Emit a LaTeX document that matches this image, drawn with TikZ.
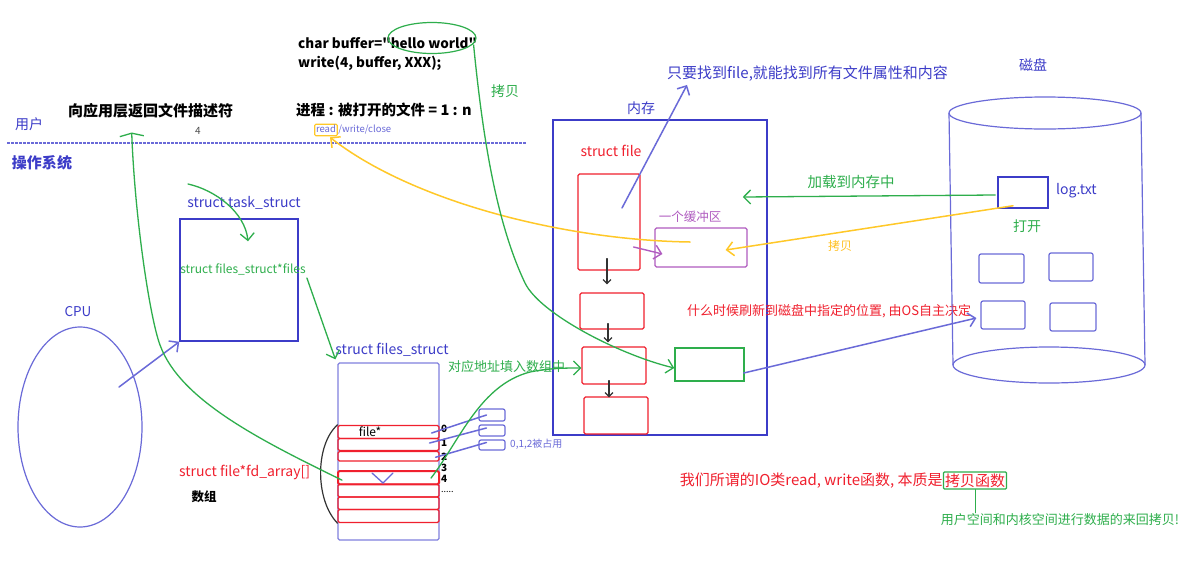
\documentclass[tikz,border=0pt]{standalone}
\usepackage{fontspec}
\setmainfont{Noto Sans CJK SC}
\usetikzlibrary{arrows.meta,shapes.geometric,fit,calc}
\definecolor{cblue}{HTML}{3C3CC8}
\definecolor{lblue}{HTML}{6A6AD8}
\definecolor{cgreen}{HTML}{2EAE4C}
\definecolor{cred}{HTML}{F0202E}
\definecolor{cpurple}{HTML}{B05CC0}
\definecolor{cyellow}{HTML}{FFC828}
\newcommand\fsz[1]{\fontsize{#1}{#1}\selectfont}
\newcommand\sqt{\XeTeXglyph\the\XeTeXcharglyph"22\relax}
\begin{document}
\begin{tikzpicture}[x=1pt,y=-1pt,
  txt/.style={inner sep=1pt},
  hand/.style={-{Straight Barb[length=7pt,width=14pt]}},
  smallhand/.style={-{Straight Barb[length=4pt,width=8pt]}},
  flathand/.style={-{Straight Barb[length=3pt,width=24pt]}},
  gline/.style={draw=cgreen, line width=1.3pt, line cap=round},
  bline/.style={draw=lblue, line width=1.5pt, line cap=round},
  yline/.style={draw=cyellow, line width=1.5pt, line cap=round},
  pline/.style={draw=cpurple, line width=1.4pt, line cap=round},
  kline/.style={draw=black!80, line width=1.2pt, line cap=round},
  bbox/.style={draw=cblue, line width=1.5pt, inner sep=0pt},
  rbox/.style={draw=cred, line width=1.2pt, rounded corners=1.5pt, inner sep=0pt},
  dbox/.style={draw=lblue, line width=1.2pt, rounded corners=2pt, inner sep=0pt},
]
\useasboundingbox[fill=white] (0,0) rectangle (1188,568);

% user / os separation
\node[txt, text=cblue, font=\fsz{14}] (user) at (29,124) {用户};
\node[txt, text=cblue, font=\fsz{15}\bfseries] (os) at (42,163) {操作系统};
\draw[lblue, line width=1.3pt, dash pattern=on 3pt off 1pt] (7,143) -- (527,143);

\node[txt, font=\fsz{15}\bfseries, anchor=west] (ret) at (67,111) {向应用层返回文件描述符};
\node[txt, text=black!70, font=\fsz{10}] (four) at (198,131) {4};
\node[txt, font=\fsz{13.5}\bfseries, anchor=west] (code1) at (297,43) {char buffer=\sqt hello world\sqt};
\node[txt, font=\fsz{13.5}\bfseries, anchor=west] (code2) at (297,63) {write(4, buffer, XXX);};
\node[txt, font=\fsz{14.5}\bfseries, anchor=west] (ratio) at (295,110) {进程 : 被打开的文件 = 1 : n};
\node[draw=cyellow, line width=1.2pt, rounded corners=1pt, inner sep=1.2pt, text=lblue, font=\fsz{9.5}, text height=7pt, text depth=2pt] (rd) at (326,130) {read};
\node[inner sep=0.5pt, text=lblue, font=\fsz{9.5}, text height=7pt, text depth=2pt, anchor=west] (wc) at (rd.east) {/write/close};
\node[ellipse, draw=cgreen, line width=1.2pt, minimum width=88pt, minimum height=31pt, inner sep=0pt] (hello) at (432,38) {};
\node[txt, text=cgreen, font=\fsz{14}] (copy1) at (505,91) {拷贝};

% memory
\node[txt, text=cblue, font=\fsz{14}] (memlbl) at (641,108) {内存};
\node[bbox, fit={(553,120)(767,435)}] (mem) {};
\node[txt, text=cred, font=\fsz{14}] (sfile) at (611,151) {struct file};
\node[rbox, fit={(578,174)(640,270)}] (r1) {};
\node[rbox, fit={(580,293)(644,329)}] (r2) {};
\node[rbox, fit={(582,347)(646,384)}] (r3) {};
\node[rbox, fit={(584,397)(648,434)}] (r4) {};
\draw[kline, smallhand] ($(r1.south)+(-2,-12)$) -- ($(r2.north)+(-5,-8)$);
\draw[kline, smallhand] ($(r2.south)+(-4,-6)$) -- ($(r3.north)+(-6,-4)$);
\draw[kline, smallhand] ($(r3.south)+(-5,-4)$) -- ($(r4.north)+(-7,1)$);
\node[txt, text=cpurple, font=\fsz{12.5}] (buflbl) at (690,217) {一个缓冲区};
\node[draw=cpurple, line width=1.2pt, rounded corners=1.5pt, inner sep=0pt, fit={(655,228)(747,267)}] (buf) {};
\draw[pline, hand] ($(r1.east)+(-7,25)$) -- ($(buf.west)+(8,6.5)$);
\node[draw=cgreen, line width=1.5pt, inner sep=0pt, fit={(675,348)(744,381)}] (gbox) {};
\node[txt, text=cblue, font=\fsz{15}, anchor=west] (info) at (666,74) {只要找到file,就能找到所有文件属性和内容};
\draw[bline, hand] ($(r1.center)+(13,-14)$) -- ($(info.south west)+(21,2)$);
\node[txt, text=cred, font=\fsz{13}, anchor=west] (flush) at (686,311) {什么时候刷新到磁盘中指定的位置, 由OS自主决定};

% disk
\node[txt, text=cblue, font=\fsz{14}] (disklbl) at (1033,65) {磁盘};
\draw[lblue, line width=1.2pt] (1045,113) ellipse [x radius=96, y radius=16];
\draw[lblue, line width=1.2pt] (949,113) -- (953,365);
\draw[lblue, line width=1.2pt] (1141,113) -- (1145,365);
\draw[lblue, line width=1.2pt] (1049,365) ellipse [x radius=96, y radius=18];
\node[bbox, fit={(998,177)(1048,208)}] (log) {};
\node[txt, text=cblue, font=\fsz{14}, anchor=west] (loglbl) at (1055,191) {log.txt};
\node[txt, text=cgreen, font=\fsz{14}] (open) at (1027,226) {打开};
\node[dbox, fit={(979,254)(1024,283)}] (d1) {};
\node[dbox, fit={(1049,253)(1093,281)}] (d2) {};
\node[dbox, fit={(981,301)(1025,329)}] (d3) {};
\node[dbox, fit={(1050,303)(1096,331)}] (d4) {};
\draw[gline, hand] ($(log.west)+(-2,2.5)$) -- ($(mem.east)+(-25,-80.5)$);
\node[txt, text=cgreen, font=\fsz{14.5}] (loadlbl) at (851,182) {加载到内存中};
\draw[yline, hand] ($(log.south)+(-10,-3)$) -- ($(buf.east)+(-22,2.5)$);
\node[txt, text=cyellow!90!orange, font=\fsz{12}] (copy2) at (840,246) {拷贝};
\draw[bline, hand] ($(gbox.east)+(-1,8.5)$) -- ($(d3.west)+(-4,3)$);

% yellow copy back to user
\draw[yline, hand] ($(buf.center)+(-11,-5.5)$) .. controls (560,240) and (410,200) .. ($(rd.south)+(4,1)$);
% green copy from user buffer
\draw[gline, hand] ($(hello.east)+(-3,7)$) .. controls (482,130) and (495,220) .. (525,283) .. controls (540,314) and (620,355) .. ($(gbox.west)+(0,3.5)$);

% task_struct
\node[txt, text=cblue, font=\fsz{14}] (tasklbl) at (244,203) {struct task\_struct};
\node[bbox, fit={(180,219)(298,341)}] (task) {};
\node[txt, text=cgreen, font=\fsz{12}] (fsf) at (243,269) {struct files\_struct*files};
\coordinate (tstart) at (188,184);
\draw[gline, hand] (tstart) .. controls (215,190) and (245,212) .. ($(task.north)+(9,23)$);

% CPU
\node[txt, text=cblue, font=\fsz{13.5}] (cpulbl) at (78,312) {CPU};
\node[ellipse, draw=lblue, line width=1.2pt, minimum width=124pt, minimum height=200pt, inner sep=0pt] (cpu) at (80,427) {};
\draw[bline, hand] ($(cpu.center)+(39,-40)$) -- (task.south west);

% files_struct
\node[txt, text=cblue, font=\fsz{14}] (fslbl) at (392,350) {struct files\_struct};
\node[draw=lblue!85, line width=1.2pt, rounded corners=1.5pt, inner sep=0pt, fit={(338,363)(439,540)}] (fs) {};
\draw[gline, hand] ($(fsf.east)+(0,9)$) -- ($(fs.north west)+(-2,-3)$);
\node[rbox, fit={(338,425.5)(439,438.5)}] (row0) {};
\node[rbox, fit={(338,438.5)(439,450.5)}] (row1) {};
\node[rbox, fit={(338,451.5)(439,461)}] (row2) {};
\node[rbox, line width=2pt, fit={(338,471)(439,484.3)}] (row3) {};
\node[rbox, fit={(338,484.3)(439,497)}] (row4) {};
\node[rbox, fit={(338,497)(439,509.5)}] (row5) {};
\node[rbox, fit={(338,509.5)(439,522.5)}] (row6) {};
\node[txt, font=\fsz{12}] (fileptr) at (370,432) {file*};
\foreach \i/\yy in {0/429,1/443,2/457,3/468,4/479}
  \node[txt, font=\fsz{10}\bfseries, anchor=west] (idx\i) at (440,\yy) {\i};
\node[txt, font=\fsz{9}, anchor=west, inner sep=0pt] (dots) at (441,492) {.....};
\draw[kline] (row0.north west) .. controls (315,445) and (315,500) .. (row6.south west);
\draw[lblue, line width=1.3pt, line cap=round] (372,473) -- (383,483) -- (393,473);

\node[dbox, fit={(479,409)(505,421)}] (sb1) {};
\node[dbox, fit={(479,425)(505,436)}] (sb2) {};
\node[dbox, fit={(479,440)(505,450)}] (sb3) {};
\node[txt, text=lblue, font=\fsz{10}, anchor=west] (occ) at (509,444) {0,1,2被占用};
\draw[bline] ($(row0.east)+(-8,1)$) -- ($(sb1.west)+(8,0)$);
\draw[bline] ($(row1.east)+(-10,-1.5)$) -- ($(sb2.west)+(8,-2.5)$);
\draw[bline] ($(row2.east)+(-4,1)$) -- ($(sb3.west)+(8,-2.5)$);

\node[txt, text=cgreen, font=\fsz{13}, anchor=west] (fill) at (447,367) {对应地址填入数组中};
\draw[gline, hand] ($(row3.east)+(-9,0.5)$) .. controls (460,440) and (480,385) .. (530,372) .. controls (550,368) and (565,368) .. ($(r3.west)+(0,2.5)$);

\node[txt, text=cred, font=\fsz{14}, anchor=west] (fdarr) at (178,472) {struct file*fd\_array[]};
\node[txt, font=\fsz{12.5}\bfseries] (arr) at (204,497) {数组};
\draw[gline, flathand] ($(row3.west)+(5,2.5)$) .. controls (260,440) and (180,400) .. (160,345) .. controls (150,318) and (135,220) .. ($(ret.south)+(-19,13)$);

% bottom note
\node[draw=cgreen, line width=1.2pt, rounded corners=1pt, inner sep=1.5pt, text=cred, font=\fsz{15}] (cpf) at (975,480.5) {拷贝函数};
\node[anchor=east, inner sep=0pt, text=cred, font=\fsz{15}] (io) at (cpf.west) {我们所谓的IO类read, write函数, 本质是};
\node[txt, text=cgreen, font=\fsz{13}] (note) at (1060,520) {用户空间和内核空间进行数据的来回拷贝!};
\draw[gline, line width=1pt] (cpf.south) -- (cpf.south |- note.north);
\end{tikzpicture}
\end{document}
